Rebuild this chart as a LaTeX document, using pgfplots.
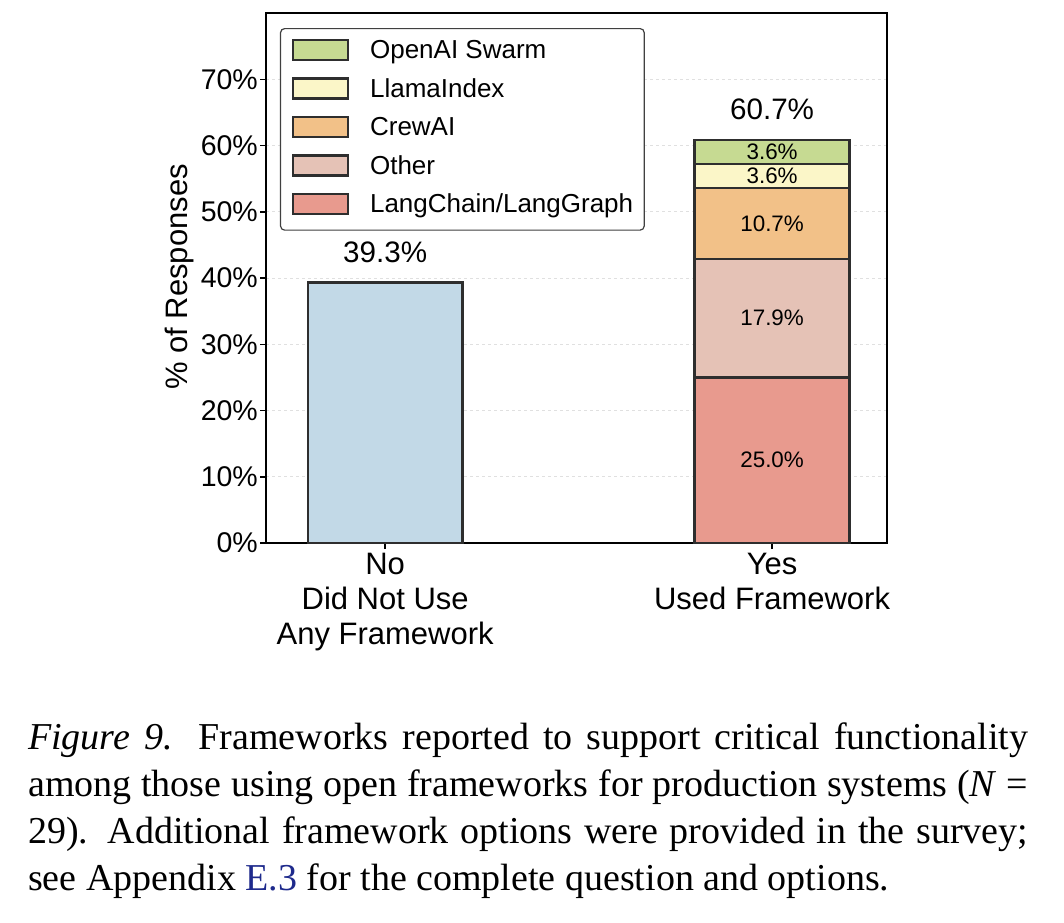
\documentclass[border=0pt]{standalone}
\usepackage{fontspec}
\setmainfont{Liberation Serif}
\setsansfont{Liberation Sans}
\usepackage{pgfplots}
\pgfplotsset{compat=1.18}

\definecolor{cNo}{HTML}{C2D9E7}
\definecolor{cLang}{HTML}{E89A8E}
\definecolor{cOther}{HTML}{E5C2B6}
\definecolor{cCrew}{HTML}{F2C188}
\definecolor{cLlama}{HTML}{FBF6C8}
\definecolor{cSwarm}{HTML}{C6DA92}
\definecolor{edge}{HTML}{2E2E2E}
\definecolor{capblue}{HTML}{1E2A8C}

\pgfplotsset{
  segment/.style={fill=#1, draw=edge, line width=2.5pt},
}

\begin{document}
\begin{tikzpicture}
\useasboundingbox (0,0) rectangle (1064pt,-922pt);

\begin{axis}[
  at={(266pt,-543pt)}, anchor=south west,
  scale only axis, width=621pt, height=530pt,
  ybar stacked, bar width=0.4,
  % patch plus invisible extent that fixes the legend row height
  legend image code/.code={%
    \draw[#1, rounded corners=0pt, line width=2.5pt] (0pt,-10pt) rectangle (55pt,10pt);
    \path (0pt,-20.5pt) (0pt,15.5pt);},
  xmin=-0.308, xmax=1.297, ymin=0, ymax=80,
  xtick={0,1},
  xticklabels={{No\\Did Not Use\\Any Framework},{Yes\\Used Framework}},
  ytick={0,10,...,70},
  yticklabels={0\%,10\%,20\%,30\%,40\%,50\%,60\%,70\%},
  tick align=outside, xtick pos=bottom, ytick pos=left,
  major tick length=6pt,
  tick style={black, line width=1.5pt},
  axis line style={black, line width=2pt},
  ymajorgrids, grid style={dashed, black!12, line width=0.9pt},
  ylabel={\% of Responses},
  every axis y label/.style={at={(axis description cs:-0.1385,0.502)}, rotate=90, anchor=center,
    font=\sffamily\fontsize{31}{36}\selectfont},
  yticklabel style={font=\sffamily\fontsize{28.5}{32}\selectfont, inner sep=0pt, xshift=-2pt},
  xticklabel style={font=\sffamily\fontsize{31}{35}\selectfont, align=center, anchor=north, inner sep=0pt, yshift=-4pt},
  legend style={at={(0.0225,0.9717)}, anchor=north west,
    draw=black!75, line width=1.2pt, rounded corners=4pt, fill=white,
    inner xsep=11pt, inner ysep=4.5pt, row sep=0pt,
    font=\sffamily\fontsize{26}{30}\selectfont,
    nodes={inner sep=0pt},
    /tikz/every odd column/.append style={column sep=21pt}},
  legend cell align=left,
  reverse legend,
]
\addplot[segment=cNo, forget plot] coordinates {(0,39.3) (1,0)};
\addplot[segment=cLang]  coordinates {(0,0) (1,25.0)};
\addplot[segment=cOther] coordinates {(0,0) (1,17.9)};
\addplot[segment=cCrew]  coordinates {(0,0) (1,10.7)};
\addplot[segment=cLlama] coordinates {(0,0) (1,3.6)};
\addplot[segment=cSwarm] coordinates {(0,0) (1,3.6)};
\legend{LangChain/LangGraph, Other, CrewAI, LlamaIndex, OpenAI Swarm}
\end{axis}

% value labels
\begin{axis}[
  at={(266pt,-543pt)}, anchor=south west,
  scale only axis, width=621pt, height=530pt,
  xmin=-0.308, xmax=1.297, ymin=0, ymax=80,
  hide axis, clip=false,
]
\addplot[draw=none, mark=none, nodes near coords, point meta=explicit symbolic,
  nodes near coords style={anchor=center, inner sep=0pt, black,
    font=\sffamily\fontsize{22.4}{26}\selectfont}]
  table[meta=label] {
x y label
1 12.5 25.0\%
1 33.95 17.9\%
1 48.25 10.7\%
1 55.4 3.6\%
1 59.0 3.6\%
};
\addplot[draw=none, mark=none, nodes near coords, point meta=explicit symbolic,
  nodes near coords style={anchor=base, inner sep=0pt, black, yshift=20.5pt,
    font=\sffamily\fontsize{29.6}{34}\selectfont}]
  table[meta=label] {
x y label
0 39.3 39.3\%
1 60.8 60.7\%
};
\end{axis}

\node[anchor=base west, inner sep=0pt, font=\fontsize{38}{47}\selectfont] at (28pt,-749pt)
  {\parbox[t]{1000pt}{\textit{Figure 9.} Frameworks reported to support critical functionality\linebreak
   among those using open frameworks for production systems (\textit{N} =\linebreak
   29). Additional framework options were provided in the survey;\linebreak
   see Appendix \textcolor{capblue}{E.3} for the complete question and options.}};
\end{tikzpicture}
\end{document}
